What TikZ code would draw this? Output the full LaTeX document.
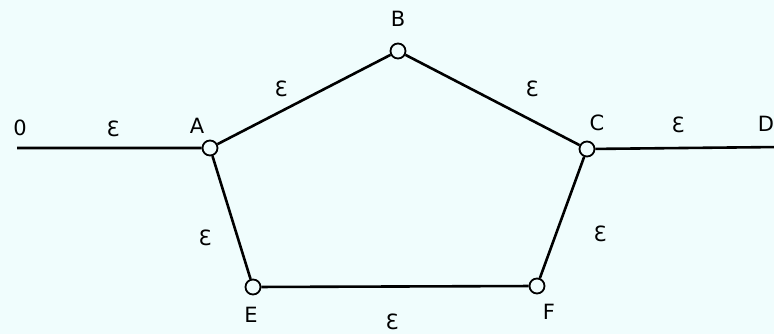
\documentclass[tikz,border=0pt]{standalone}
\usepackage{tikz}
\usepackage{fontspec}
\setmainfont{DejaVu Sans}
\definecolor{paper}{RGB}{240,253,253}
\tikzset{
  pn joint/.style={
    circle,draw=black,fill=paper,minimum size=15pt,
    inner sep=0pt,line width=1.8pt
  },
  pn edge/.style={black,line width=2.6pt},
  pn text/.style={font=\fontsize{21}{24}\selectfont,inner sep=0pt}
}
\newcommand{\pneps}{Ɛ}

\begin{document}
\begin{tikzpicture}[x=1pt,y=-1pt]
  \fill[paper] (0,0) rectangle (774,334);
  \useasboundingbox (0,0) rectangle (774,334);
  % joints of the ring
  \coordinate (O) at (17,148);
  \coordinate (D) at (780,147);
  \node[pn joint] (A) at (210,148) {};
  \node[pn joint] (B) at (398,51) {};
  \node[pn joint] (C) at (587,149) {};
  \node[pn joint] (E) at (253,287) {};
  \node[pn joint] (F) at (537,286) {};
  \draw[pn edge] (O)--(A) (A)--(B) (B)--(C) (C)--(D)
    (A)--(E) (E)--(F) (F)--(C);

  \node[pn text] (lo) at (20,128) {0};
  \node[pn text] (la) at (197,126) {A};
  \node[pn text] (lb) at (398,19) {B};
  \node[pn text] (lc) at (597,123) {C};
  \node[pn text] (ld) at (766,124) {D};
  \node[pn text] (le) at (251,315) {E};
  \node[pn text] (lf) at (549,312) {F};

  \node[pn text] (eoa) at (113,129) {\pneps};
  \node[pn text] (eab) at (281,89) {\pneps};
  \node[pn text] (ebc) at (532,89) {\pneps};
  \node[pn text] (ecd) at (678,125) {\pneps};
  \node[pn text] (eae) at (205,238) {\pneps};
  \node[pn text] (ecf) at (600,234) {\pneps};
  \node[pn text] (eef) at (392,322) {\pneps};
\end{tikzpicture}
\end{document}
